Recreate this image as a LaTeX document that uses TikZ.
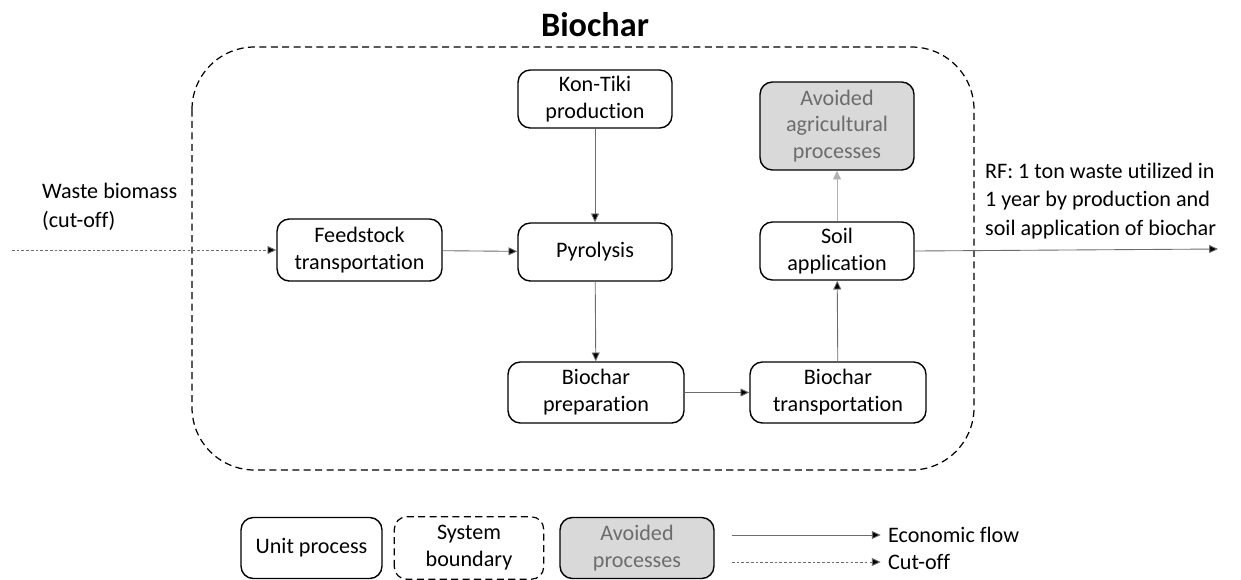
\documentclass[tikz,border=0pt]{standalone}
\usepackage{fontspec}
\setmainfont{Carlito}[Ligatures=NoCommon]
\usetikzlibrary{arrows.meta}

\tikzset{
  unit/.style={draw, rounded corners=7pt, line width=0.8pt, align=center,
    minimum width=3.08cm, minimum height=1.16cm, inner sep=1pt, font=\fontsize{12.6}{15.3}\selectfont},
  avoided/.style={unit, fill=gray!30, text=gray!85!black},
  flow/.style={draw=gray!85!black, line width=0.5pt, -{Triangle[length=5pt,width=4.5pt,fill=black]}},
  cutflow/.style={flow, dash pattern=on 1.5pt off 1.2pt},
  boundary/.style={draw, dash pattern=on 4pt off 2.5pt, line width=0.7pt},
  plain/.style={align=left, inner sep=1pt, font=\fontsize{12.6}{16.4}\selectfont}
}

\begin{document}
\begin{tikzpicture}[x=0.02cm, y=-0.02cm]
\useasboundingbox (0,0) rectangle (1241,579);
%
% system boundary
\draw[boundary, rounded corners=1.25cm] (192,47) rectangle (974,470);
\node[font=\fontsize{19.5}{22}\selectfont\bfseries] (title) at (595,25) {Biochar};
%
% unit processes
\node[unit] (kontiki) at (595,99) {Kon-Tiki\\production};
\node[unit] (feed) at (359.5,250) [minimum width=3.3cm, minimum height=1.24cm] {Feedstock\\transportation};
\node[unit] (pyro) at (595,252) {Pyrolysis};
\node[unit] (soil) at (837,251) {Soil\\application};
\node[avoided] (agri) at (837,126) [minimum height=1.76cm] {Avoided\\agricultural\\processes};
\node[unit] (prep) at (596,392.5) [minimum width=3.52cm, minimum height=1.22cm] {Biochar\\preparation};
\node[unit] (trans) at (838,392.5) [minimum width=3.52cm, minimum height=1.22cm] {Biochar\\transportation};
%
% outside
\node[plain, anchor=west] (waste) at (40,207) {Waste biomass\\(cut-off)};
\coordinate (wastein) at (12,250);
\node[plain, anchor=west] (rf) at (983,201) {RF: 1 ton waste utilized in\\1 year by production and\\soil application of biochar};
\coordinate (rfout) at (1218,249);
%
% flows
\draw[cutflow] (wastein) -- (feed.west);
\draw[flow] (feed) -- (pyro);
\draw[flow] (kontiki) -- (pyro);
\draw[flow] (pyro) -- (prep);
\draw[flow] (prep) -- (trans);
\draw[flow] (trans) -- (soil);
\draw[flow, draw=gray!60, -{Triangle[length=5pt,width=4.5pt,fill=gray!60]}] (soil) -- (agri);
\draw[flow] (soil.east) -- (rfout);
%
% legend
\node[unit] (lgunit) at (311.5,548) [minimum width=2.82cm, minimum height=1.22cm] {Unit process};
\node[unit, draw=none] (lgsys) at (469,548) [minimum width=2.96cm, minimum height=1.22cm] {System\\boundary};
\draw[boundary, rounded corners=7pt] (lgsys.south west) rectangle (lgsys.north east);
\node[avoided] (lgavoid) at (637,548) [minimum height=1.22cm] {Avoided\\processes};
\node[plain, anchor=west] (lgeco) at (886,535) {Economic flow};
\node[plain, anchor=west] (lgcut) at (886,562) {Cut-off};
\coordinate (lgecoin) at (732,535);
\coordinate (lgcutin) at (732,562);
\draw[flow, shorten >=3pt] (lgecoin) -- (lgeco.west);
\draw[cutflow, shorten >=3pt] (lgcutin) -- (lgcut.west);
\end{tikzpicture}
\end{document}
